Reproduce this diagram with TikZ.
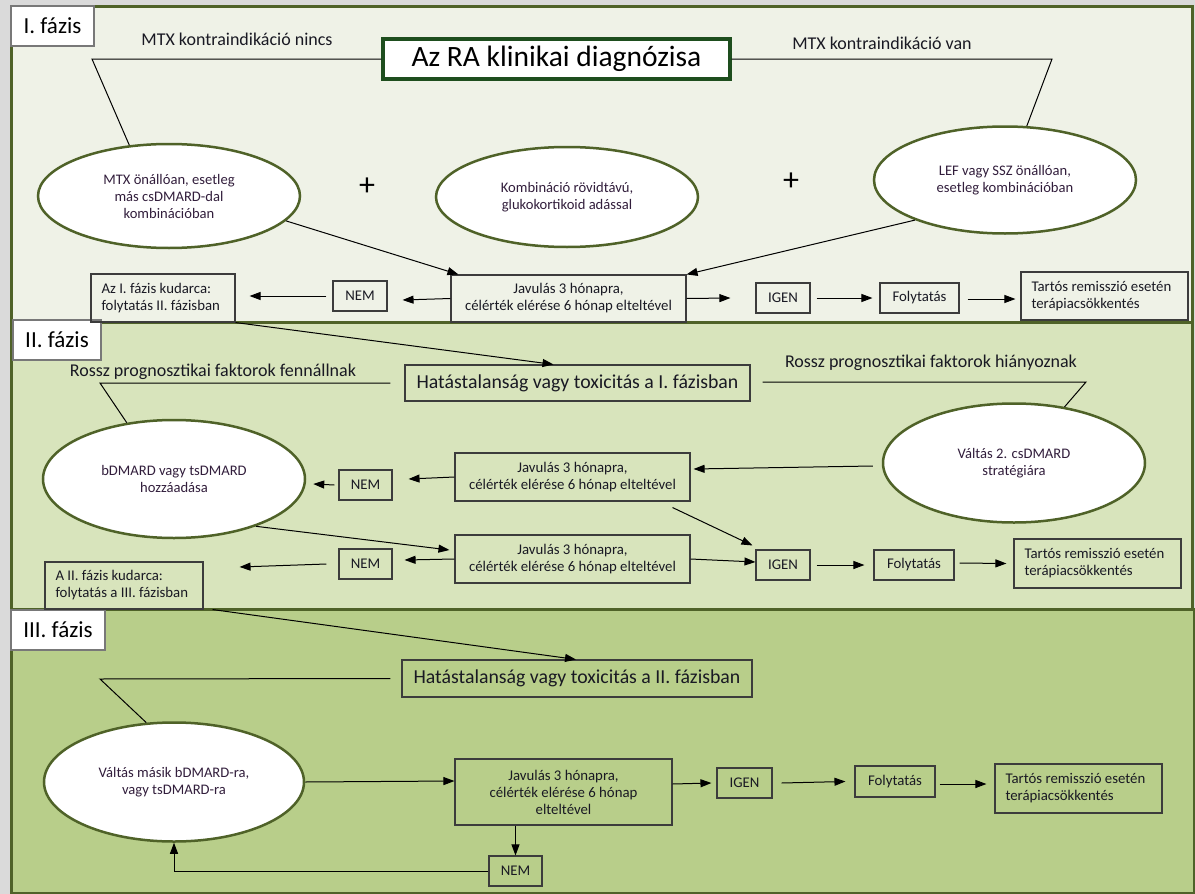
\documentclass[tikz,border=0pt]{standalone}
\usepackage{fontspec}
\setmainfont{Carlito}
\usetikzlibrary{shapes.geometric,arrows.meta,calc}
\definecolor{bgI}{RGB}{239,242,231}
\definecolor{bgII}{RGB}{216,228,188}
\definecolor{bgIII}{RGB}{184,206,138}
\definecolor{olivec}{RGB}{79,98,40}
\definecolor{titleg}{RGB}{30,78,30}
\definecolor{boxc}{RGB}{60,60,60}
\definecolor{txt}{RGB}{25,25,35}
\definecolor{etxt}{RGB}{50,30,60}
\definecolor{outerc}{RGB}{218,218,218}
\definecolor{labc}{RGB}{120,120,120}
\tikzset{
  box/.style={draw=boxc, line width=1.1pt, inner sep=0pt, align=center, text=txt, font=\fontsize{14.8}{17}\selectfont},
  lbox/.style={box, align=flush left, text width=#1, inner xsep=10.5pt},
  ell/.style={ellipse, draw=olivec, line width=2.5pt, fill=white, inner sep=0pt, align=center, text=etxt, font=\fontsize{14.6}{17}\selectfont},
  phase/.style={draw=labc, line width=1.2pt, fill=white, inner sep=0pt, text=black, font=\fontsize{23}{26}\selectfont},
  lab/.style={inner sep=0pt, text=txt, font=\fontsize{18}{20}\selectfont},
  hat/.style={box, font=\fontsize{19.8}{22}\selectfont},
  arr/.style={-{Triangle[length=11pt,width=8pt]}, line width=1pt, draw=black},
  ln/.style={line width=1pt, draw=black},
  plus/.style={inner sep=0pt, font=\fontsize{32}{32}\selectfont}
}
\begin{document}
\begin{tikzpicture}[x=1pt,y=-1pt]
\useasboundingbox (0,0) rectangle (1195,894);
\fill[outerc] (0,0) rectangle (1195,894);
% panels
\filldraw[fill=bgI, draw=olivec, line width=3pt] (11,6) rectangle (1192,322);
\filldraw[fill=bgII, draw=olivec, line width=3pt] (11,322) rectangle (1192,609);
\filldraw[fill=bgIII, draw=olivec, line width=3pt] (11,609) rectangle (1194,893);
% phase labels
\node[phase, minimum width=83pt, minimum height=40pt] (ph1) at (52.5,26) {I. fázis};
\node[phase, minimum width=88pt, minimum height=40pt] (ph2) at (57,340) {II. fázis};
\node[phase, minimum width=94pt, minimum height=40pt] (ph3) at (58,630) {III. fázis};
% ---------- Phase I ----------
\node[draw=titleg, line width=3.2pt, fill=white, minimum width=347pt, minimum height=40pt, inner sep=0pt, text=black, font=\fontsize{29.5}{32}\selectfont] (title) at (556.5,59) {Az RA klinikai diagnózisa};
\node[lab] (l1) at (237,39) {MTX kontraindikáció nincs};
\node[lab] (l2) at (882,43) {MTX kontraindikáció van};
\node[ell, minimum width=262pt, minimum height=104pt] (e1) at (169,196) {MTX önállóan, esetleg\\más csDMARD-dal\\kombinációban};
\node[ell, minimum width=262pt, minimum height=100pt] (e2) at (567,197) {Kombináció rövidtávú,\\glukokortikoid adással};
\node[ell, minimum width=262pt, minimum height=107pt] (e3) at (1005,180) {LEF vagy SSZ önállóan,\\esetleg kombinációban};
\node[plus] (p1) at (367,187) {+};
\node[plus] (p2) at (791,182) {+};
\node[box, minimum width=235pt, minimum height=47pt] (jav1) at (568.5,298.5) {Javulás 3 hónapra,\\célérték elérése 6 hónap elteltével};
\node[box, minimum width=54pt, minimum height=30pt] (nem1) at (360,296) {NEM};
\node[lbox=123pt, minimum height=48pt] (kud1) at (163,298) {Az I. fázis kudarca:\\folytatás II. fázisban};
\node[box, minimum width=54pt, minimum height=30pt] (igen1) at (783,298) {IGEN};
\node[box, minimum width=79pt, minimum height=30pt] (fol1) at (919.5,298) {Folytatás};
\node[lbox=146pt, minimum height=48pt] (tar1) at (1104.5,296) {Tartós remisszió esetén\\terápiacsökkentés};
\coordinate (k1) at (92,59);
\coordinate (k2) at (1052,59);
\draw[ln] (title.west) -- (k1) -- (e1.128);
\draw[ln] (title.east) -- (k2) -- (e3.68);
\draw[arr] (e1.-12) -- ([xshift=8pt]jav1.north west);
\draw[arr] (e3.204) -- (jav1.north east);
\draw[arr] (jav1.west) -- ([xshift=15pt,yshift=-4pt]nem1.east);
\draw[arr] ([xshift=-6pt]nem1.west) -- ([xshift=14pt,yshift=2pt]kud1.east);
\draw[arr] (jav1.east) -- ([xshift=-25pt]igen1.west);
\draw[arr] ([xshift=6pt]igen1.east) -- ([xshift=-7pt]fol1.west);
\draw[arr] ([xshift=8pt,yshift=-1pt]fol1.east) -- ([xshift=-5pt,yshift=-3pt]tar1.west);
% ---------- Phase II ----------
\node[hat, minimum width=345pt, minimum height=36pt] (hat1) at (577.5,383) {Hatástalanság vagy toxicitás a I. fázisban};
\node[lab] (l3) at (213,372) {Rossz prognosztikai faktorok fennállnak};
\node[lab] (l4) at (931,363) {Rossz prognosztikai faktorok hiányoznak};
\node[ell, minimum width=262pt, minimum height=118pt] (e4) at (174,479) {bDMARD vagy tsDMARD\\hozzáadása};
\node[ell, minimum width=262pt, minimum height=119pt] (e5) at (1014,463) {Váltás 2. csDMARD\\stratégiára};
\node[box, minimum width=235pt, minimum height=48pt] (jav2a) at (572.5,477) {Javulás 3 hónapra,\\célérték elérése 6 hónap elteltével};
\node[box, minimum width=53pt, minimum height=30pt] (nem2a) at (365.5,485) {NEM};
\node[box, minimum width=235pt, minimum height=48pt] (jav2b) at (572.5,559) {Javulás 3 hónapra,\\célérték elérése 6 hónap elteltével};
\node[box, minimum width=53pt, minimum height=30pt] (nem2b) at (365.5,564) {NEM};
\node[lbox=137pt, minimum height=47pt] (kud2) at (124,585.5) {A II. fázis kudarca:\\folytatás a III. fázisban};
\node[box, minimum width=54pt, minimum height=30pt] (igen2) at (783,565) {IGEN};
\node[box, minimum width=80pt, minimum height=30pt] (fol2) at (914,565) {Folytatás};
\node[lbox=146pt, minimum height=49pt] (tar2) at (1097.5,563.5) {Tartós remisszió esetén\\terápiacsökkentés};
\coordinate (k3) at (100,383);
\coordinate (k4) at (1086,382);
\draw[arr] (kud1.south east) -- ([xshift=-24pt]hat1.north);
\draw[ln] ([xshift=-14pt]hat1.west) -- (k3) -- (e4.130);
\draw[ln] ([xshift=12pt,yshift=1pt]hat1.east) -- (k4) -- (e5.48);
\draw[arr] ([xshift=-9pt,yshift=-3pt]e5.west) -- ([xshift=3pt,yshift=8pt]jav2a.east);
\draw[arr] (jav2a.west) -- ([xshift=16pt,yshift=6pt]nem2a.east);
\draw[arr] ([xshift=-4pt]nem2a.west) -- ([xshift=7pt,yshift=-5pt]e4.east);
\draw[arr] (e4.-30) -- ([xshift=-5pt,yshift=9pt]jav2b.west);
\draw[arr] (jav2b.west) -- ([xshift=12pt,yshift=4pt]nem2b.east);
\draw[arr] ([xshift=-12pt]nem2b.west) -- ([xshift=36pt,yshift=18.5pt]kud2.east);
\draw[arr] ([xshift=-18pt,yshift=-6pt]jav2a.south east) -- ([xshift=-3pt,yshift=4pt]igen2.north west);
\draw[arr] (jav2b.east) -- ([yshift=3pt]igen2.west);
\draw[arr] ([xshift=6pt]igen2.east) -- ([xshift=-9pt]fol2.west);
\draw[arr] ([xshift=5pt,yshift=2pt]fol2.east) -- ([xshift=-7pt]tar2.west);
% ---------- Phase III ----------
\node[hat, minimum width=350pt, minimum height=37pt] (hat2) at (577,678.5) {Hatástalanság vagy toxicitás a II. fázisban};
\node[ell, minimum width=260pt, minimum height=119pt] (e6) at (174,782) {Váltás másik bDMARD-ra,\\vagy tsDMARD-ra};
\node[box, minimum width=217pt, minimum height=66pt] (jav3) at (563.5,792) {Javulás 3 hónapra,\\célérték elérése 6 hónap\\elteltével};
\node[box, minimum width=53pt, minimum height=30pt] (nem3) at (515.5,871) {NEM};
\node[box, minimum width=55pt, minimum height=30pt] (igen3) at (744.5,783) {IGEN};
\node[box, minimum width=80pt, minimum height=31pt] (fol3) at (895,781.5) {Folytatás};
\node[lbox=146pt, minimum height=49pt] (tar3) at (1078.5,788.5) {Tartós remisszió esetén\\terápiacsökkentés};
\coordinate (k5) at (100,679);
\draw[arr] ([xshift=9pt]kud2.south east) -- ([xshift=-1pt]hat2.north);
\draw[ln] ([xshift=-11pt]hat2.west) -- (k5) -- (e6.115);
\draw[arr] (e6.east) -- ([yshift=11pt]jav3.west);
\draw[arr] (jav3.south -| nem3.north) -- (nem3.north);
\draw[arr] (nem3.west) -| (e6.south);
\draw[arr] ([yshift=8pt]jav3.east) -- ([xshift=-5pt]igen3.west);
\draw[arr] ([xshift=9pt]igen3.east) -- ([xshift=-9pt]fol3.west);
\draw[arr] ([xshift=4pt,yshift=-2.5pt]fol3.east) -- ([xshift=-8pt,yshift=4.5pt]tar3.west);
\end{tikzpicture}
\end{document}
